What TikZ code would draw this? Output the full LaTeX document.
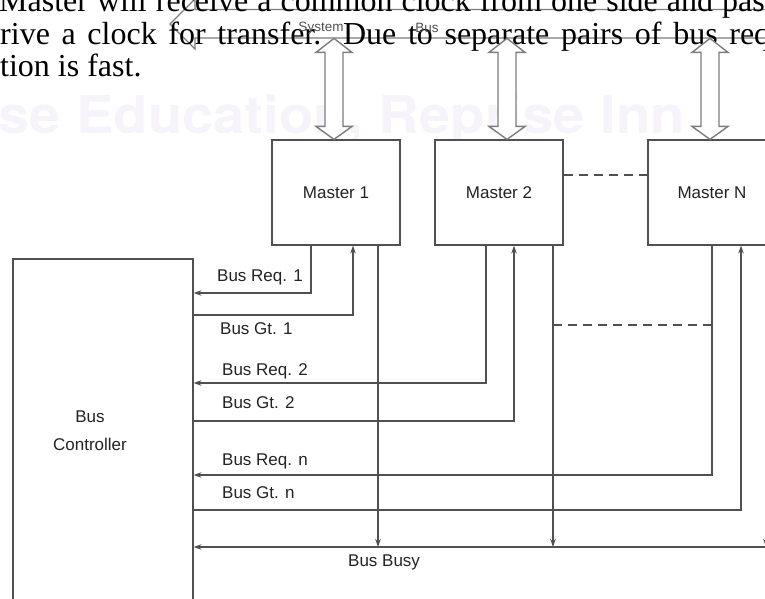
\documentclass[tikz,border=0pt]{standalone}
\usepackage{fontspec}
\setmainfont{Liberation Serif}
\setsansfont{Liberation Sans}
\newfontfamily\wmfont{TeX Gyre Heros}
\usetikzlibrary{arrows.meta,calc}
\definecolor{ln}{RGB}{80,80,80}
\definecolor{hol}{RGB}{125,125,125}
\definecolor{txt}{RGB}{35,35,35}
\definecolor{wm}{RGB}{246,243,250}
\newcommand\busarrow[2]{%
  \draw[hollow] ([xshift=#2]#1.north) -- ++(-18,-13) -- ++(9,0) -- ++(0,-74) -- ++(-9,0)
    -- ++(18,-14) -- ++(18,14) -- ++(-9,0) -- ++(0,74) -- ++(9,0) -- cycle;}
\begin{document}
\begin{tikzpicture}[x=1pt,y=-1pt,
  wire/.style={draw=ln, line width=1.2pt},
  arr/.style={wire, -{Stealth[length=8pt,width=5.5pt]}},
  dashwire/.style={wire, dash pattern=on 9pt off 6pt},
  box/.style={draw=ln, line width=1.2pt, fill=white, minimum width=128pt,
    minimum height=105pt, inner sep=0pt, font=\sffamily\fontsize{17}{20}\selectfont, text=txt},
  lbl/.style={anchor=west, font=\sffamily\fontsize{17}{20}\selectfont, text=txt, inner sep=0pt},
  small/.style={font=\sffamily\fontsize{13.5}{15}\selectfont, text=ln, inner sep=0pt},
  hollow/.style={draw=hol, line width=1.4pt, fill=white, line join=miter},
  para/.style={anchor=base west, inner sep=0pt, font=\fontsize{32}{36}\selectfont, text=black},
  wmark/.style={anchor=base west, inner sep=0pt, font=\wmfont\bfseries\fontsize{52}{52}\selectfont, text=wm}
]
\useasboundingbox (0,0) rectangle (765,599);
\clip (0,0) rectangle (765,599);
\fill[white] (0,0) rectangle (765,599);

% watermark
\node[wmark, xscale=1.08] (wmk) at (-2,134) {se Education, Reprise Inn};

% system bus
\draw[hollow] (800,9.5) -- (195,9.5) -- (195,-1) -- (170,24) -- (195,49) -- (195,38) -- (800,38);

% paragraph text
\node[para] (p1) at (-1,12) {\makebox[778pt][s]{Master will receive a common clock from one side and pass}};
\node[para] (p2) at (0,45) {\makebox[770pt][s]{rive a clock for transfer. Due to separate pairs of bus req}};
\node[para] (p3) at (0,77) {tion is fast.};

\node[small] (sys) at (321,28) {System};
\node[small] (sbus) at (427,28) {Bus};

% masters
\node[box] (m1) at (336,192.5) {Master 1};
\node[box] (m2) at (499,192.5) {Master 2};
\node[box] (mN) at (712,192.5) {Master N};
\busarrow{m1}{-2}
\busarrow{m2}{8}
\busarrow{mN}{-2}

\draw[dashwire] ([yshift=17.5]m2.east) -- ([yshift=17.5]mN.west);

% controller
\node[box, minimum width=180pt, minimum height=381pt] (ctrl) at (103,449.5) {};
\node[lbl, anchor=center, align=center, font=\sffamily\fontsize{17}{28}\selectfont] (ctrltxt) at (90,431) {Bus\\Controller};

% level coordinates
\coordinate (r1) at (0,293);
\coordinate (g1) at (0,315);
\coordinate (r2) at (0,383);
\coordinate (g2) at (0,421);
\coordinate (rn) at (0,475);
\coordinate (gn) at (0,510);
\coordinate (bb) at (0,547);
\coordinate (bbR) at (790,547);

% master 1
\draw[arr] ([xshift=-25]m1.south) |- (ctrl.east |- r1);
\draw[arr] (ctrl.east |- g1) -| ([xshift=17]m1.south);
\draw[arr] ([xshift=42]m1.south) -- ([xshift=42]m1.south |- bb);
% master 2
\draw[arr] ([xshift=-13]m2.south) |- (ctrl.east |- r2);
\draw[arr] (ctrl.east |- g2) -| ([xshift=15]m2.south);
\draw[arr] ([xshift=54]m2.south) -- ([xshift=54]m2.south |- bb);
% master N
\draw[arr] (mN.south) |- (ctrl.east |- rn);
\draw[arr] (ctrl.east |- gn) -| ([xshift=29]mN.south);
\draw[arr] ([xshift=54]mN.south) -- ([xshift=54]mN.south |- bb);
% bus busy
\draw[arr] (bbR) -- (ctrl.east |- bb);

% dashed between
\coordinate (d1) at (553,325);
\coordinate (d2) at (712,325);
\draw[dashwire] (d1) -- (d2);

% labels
\node[lbl] (lr1) at (217,277) {Bus Req. 1};
\node[lbl] (lg1) at (220,329) {Bus Gt. 1};
\node[lbl] (lr2) at (222,371) {Bus Req. 2};
\node[lbl] (lg2) at (222,403) {Bus Gt. 2};
\node[lbl] (lrn) at (222,461) {Bus Req. n};
\node[lbl] (lgn) at (222,493) {Bus Gt. n};
\node[lbl] (lbb) at (348,562) {Bus Busy};
\end{tikzpicture}
\end{document}
